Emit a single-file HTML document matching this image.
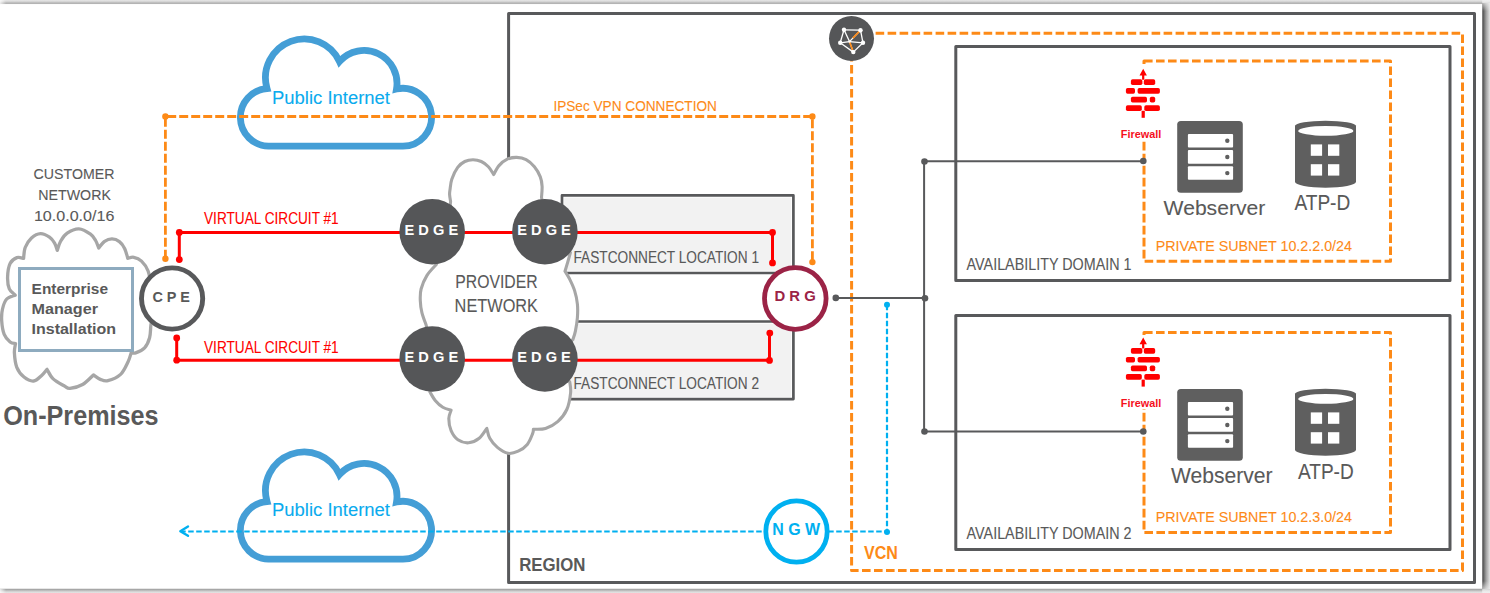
<!DOCTYPE html>
<html><head><meta charset="utf-8"><style>
html,body{margin:0;padding:0;width:1490px;height:593px;overflow:hidden;background:#fff}
svg{display:block;font-family:"Liberation Sans",sans-serif}
</style></head><body>
<svg width="1490" height="593" viewBox="0 0 1490 593">
<defs>
<linearGradient id="gt" x1="0" y1="0" x2="0" y2="1"><stop offset="0" stop-color="#e8e8e8"/><stop offset="0.45" stop-color="#d0d0d0"/><stop offset="0.78" stop-color="#a8a8a8"/><stop offset="1" stop-color="#f4f4f4"/></linearGradient>
<linearGradient id="gb" x1="0" y1="0" x2="0" y2="1"><stop offset="0" stop-color="#b0b0b0"/><stop offset="0.2" stop-color="#a6a6a6"/><stop offset="0.6" stop-color="#cfcfcf"/><stop offset="1" stop-color="#e6e6e6"/></linearGradient>
<linearGradient id="gr" x1="0" y1="0" x2="1" y2="0"><stop offset="0" stop-color="#6a6a6a"/><stop offset="0.08" stop-color="#505050"/><stop offset="0.5" stop-color="#a0a0a0"/><stop offset="1" stop-color="#e4e4e4"/></linearGradient>
<linearGradient id="gtr" x1="0" y1="0" x2="0" y2="1"><stop offset="0" stop-color="#eeeeee" stop-opacity="1"/><stop offset="0.35" stop-color="#eeeeee" stop-opacity="0.6"/><stop offset="1" stop-color="#eeeeee" stop-opacity="0"/></linearGradient>
<linearGradient id="gbr" x1="0" y1="0" x2="0" y2="1"><stop offset="0" stop-color="#eeeeee" stop-opacity="0"/><stop offset="0.6" stop-color="#eeeeee" stop-opacity="0.6"/><stop offset="1" stop-color="#eeeeee" stop-opacity="1"/></linearGradient>
<linearGradient id="gl" x1="0" y1="0" x2="1" y2="0"><stop offset="0" stop-color="#fff" stop-opacity="0.75"/><stop offset="1" stop-color="#fff" stop-opacity="0"/></linearGradient>
</defs>
<rect x="0" y="0" width="1490" height="593" fill="#ffffff"/>
<rect x="0" y="0" width="1490" height="4.3" fill="url(#gt)"/>
<rect x="0" y="588.7" width="1490" height="4.3" fill="url(#gb)"/>
<rect x="1482.2" y="3" width="7.8" height="586" fill="url(#gr)"/>
<rect x="0" y="0" width="6" height="4.3" fill="url(#gl)"/>
<rect x="1482.2" y="0" width="7.8" height="11" fill="url(#gtr)"/>
<rect x="1482.2" y="581" width="7.8" height="12" fill="url(#gbr)"/>
<rect x="0" y="588.7" width="6" height="4.3" fill="url(#gl)"/>
<rect x="508.6" y="13.6" width="965.9" height="568.8" fill="none" stroke="#58595b" stroke-width="3" stroke-linejoin="round"/>
<rect x="562" y="195.4" width="231.4" height="77.6" fill="#fff" stroke="#58595b" stroke-width="2.7" stroke-linejoin="round"/>
<rect x="564.2" y="197.6" width="227.0" height="73.19999999999999" fill="#f2f2f2"/>
<rect x="562" y="321.5" width="231.4" height="77.6" fill="#fff" stroke="#58595b" stroke-width="2.7" stroke-linejoin="round"/>
<rect x="564.2" y="323.7" width="227.0" height="73.19999999999999" fill="#f2f2f2"/>
<path d="M851.6 33.3 H1462.5 V570.5 H851.6 Z" fill="none" stroke="#fd8a17" stroke-width="3" stroke-dasharray="8.6 3.4" stroke-linejoin="round"/>
<rect x="955.8" y="46.5" width="494.20000000000005" height="234" fill="none" stroke="#58595b" stroke-width="3" stroke-linejoin="round"/>
<rect x="955.8" y="315.5" width="494.20000000000005" height="234" fill="none" stroke="#58595b" stroke-width="3" stroke-linejoin="round"/>
<rect x="1144" y="61" width="246.5" height="200.2" fill="none" stroke="#fd8a17" stroke-width="3" stroke-dasharray="8.6 3.4" stroke-linejoin="round"/>
<rect x="1144" y="332.4" width="246.5" height="200" fill="none" stroke="#fd8a17" stroke-width="3" stroke-dasharray="8.6 3.4" stroke-linejoin="round"/>
<path d="M267.00 88.50 A38.79 38.79 0 0 1 339.50 61.50 A32.90 32.90 0 0 1 396.50 89.00 A28.93 28.93 0 1 1 403.00 146.20 L268.50 146.20 A28.90 28.90 0 0 1 267.00 88.50 Z" fill="#fff" stroke="#449ed6" stroke-width="6.8"/>
<g transform="translate(0,413)"><path d="M267.00 88.50 A38.79 38.79 0 0 1 339.50 61.50 A32.90 32.90 0 0 1 396.50 89.00 A28.93 28.93 0 1 1 403.00 146.20 L268.50 146.20 A28.90 28.90 0 0 1 267.00 88.50 Z" fill="#fff" stroke="#449ed6" stroke-width="6.8"/></g>
<path d="M23.60 258.40 C23.87 256.58 23.88 250.90 25.20 247.50 C26.52 244.10 28.95 240.32 31.50 238.00 C34.05 235.68 37.50 233.73 40.50 233.60 C43.50 233.47 47.15 235.60 49.50 237.20 C51.85 238.80 53.30 241.00 54.60 243.20 C55.90 245.40 56.85 249.20 57.30 250.40 C57.85 248.87 58.95 244.07 60.60 241.20 C62.25 238.33 64.15 235.25 67.20 233.20 C70.25 231.15 75.02 228.73 78.90 228.90 C82.78 229.07 87.72 232.27 90.50 234.20 C93.28 236.13 94.22 238.20 95.60 240.50 C96.98 242.80 98.27 246.75 98.80 248.00 C99.77 246.90 102.40 242.92 104.60 241.40 C106.80 239.88 109.53 238.87 112.00 238.90 C114.47 238.93 117.30 240.02 119.40 241.60 C121.50 243.18 123.20 245.60 124.60 248.40 C126.00 251.20 127.27 256.73 127.80 258.40 C128.80 258.22 131.52 256.85 133.80 257.30 C136.08 257.75 139.12 258.82 141.50 261.10 C143.88 263.38 146.35 266.18 148.10 271.00 C149.85 275.82 151.35 286.83 152.00 290.00 C152.08 294.17 152.68 309.17 152.50 315.00 C152.32 320.83 151.38 321.22 150.90 325.00 C150.42 328.78 150.65 333.90 149.60 337.70 C148.55 341.50 146.92 345.27 144.60 347.80 C142.28 350.33 137.92 352.12 135.70 352.90 C133.48 353.68 132.03 352.57 131.30 352.50 C130.77 354.03 129.88 358.05 128.10 361.70 C126.32 365.35 123.97 371.23 120.60 374.40 C117.23 377.57 111.28 379.87 107.90 380.70 C104.52 381.53 102.72 380.35 100.30 379.40 C97.88 378.45 94.55 375.73 93.40 375.00 C91.60 376.58 86.50 382.28 82.60 384.50 C78.70 386.72 73.08 388.08 70.00 388.30 C66.92 388.52 66.95 387.42 64.10 385.80 C61.25 384.18 55.75 381.35 52.90 378.60 C50.05 375.85 47.98 370.85 47.00 369.30 C46.12 370.32 43.92 373.45 41.70 375.40 C39.48 377.35 36.65 380.73 33.70 381.00 C30.75 381.27 26.82 379.28 24.00 377.00 C21.18 374.72 18.40 371.32 16.80 367.30 C15.20 363.28 14.62 356.87 14.40 352.90 C14.18 348.93 15.32 345.07 15.50 343.50 C14.60 343.25 11.98 343.52 10.10 342.00 C8.22 340.48 5.60 337.92 4.20 334.40 C2.80 330.88 1.98 325.13 1.70 320.90 C1.42 316.67 1.66 312.65 2.50 309.00 C3.34 305.35 4.63 301.30 6.75 299.00 C8.87 296.70 13.79 295.83 15.20 295.20 C14.22 294.13 10.57 291.83 9.30 288.80 C8.03 285.77 7.47 281.22 7.60 277.00 C7.73 272.78 8.55 266.73 10.10 263.50 C11.65 260.27 14.65 258.45 16.90 257.60 C19.15 256.75 22.48 258.27 23.60 258.40 Z" fill="#fff" stroke="#a6a6a6" stroke-width="3.3" stroke-linejoin="round"/>
<path d="M447.00 232.00 L450.60 201.60 C450.43 200.43 449.70 196.57 449.60 194.60 C449.50 192.63 449.63 192.37 450.00 189.80 C450.37 187.23 450.52 182.93 451.80 179.20 C453.08 175.47 455.53 170.35 457.70 167.40 C459.87 164.45 462.25 162.78 464.80 161.50 C467.35 160.22 470.25 159.70 473.00 159.70 C475.75 159.70 478.73 160.32 481.30 161.50 C483.87 162.68 486.33 164.63 488.40 166.80 C490.47 168.97 492.82 173.22 493.70 174.50 C494.58 173.02 496.73 168.15 499.00 165.60 C501.27 163.05 504.35 160.57 507.30 159.20 C510.25 157.83 513.57 157.32 516.70 157.40 C519.83 157.48 523.15 158.13 526.10 159.70 C529.05 161.27 532.03 163.93 534.40 166.80 C536.77 169.67 539.02 173.65 540.30 176.90 C541.58 180.15 541.90 182.87 542.10 186.30 C542.30 189.73 541.60 195.63 541.50 197.50 L550.00 232.00 L570.40 252.60 C569.97 254.15 568.70 258.80 567.80 261.90 C566.90 265.00 565.47 269.65 565.00 271.20 C565.75 272.47 567.90 275.57 569.50 278.80 C571.10 282.03 573.28 286.38 574.60 290.60 C575.92 294.82 576.93 299.60 577.40 304.10 C577.87 308.60 577.73 313.10 577.40 317.60 C577.07 322.10 576.15 327.45 575.40 331.10 C574.65 334.75 573.32 338.10 572.90 339.50 L550.00 359.00 L569.80 382.10 C569.93 383.88 571.10 388.23 570.60 392.80 C570.10 397.37 568.95 404.70 566.80 409.50 C564.65 414.30 561.25 418.45 557.70 421.60 C554.15 424.75 549.55 427.13 545.50 428.40 C541.45 429.67 535.42 429.07 533.40 429.20 C533.27 429.95 533.62 431.17 532.60 433.70 C531.58 436.23 529.70 441.48 527.30 444.40 C524.90 447.32 521.42 449.72 518.20 451.20 C514.98 452.68 511.47 453.93 508.00 453.30 C504.53 452.67 500.43 449.90 497.40 447.40 C494.37 444.90 491.57 441.47 489.80 438.30 C488.03 435.13 487.30 430.05 486.80 428.40 C485.53 430.05 482.23 435.90 479.20 438.30 C476.17 440.70 472.15 442.55 468.60 442.80 C465.05 443.05 460.82 441.82 457.90 439.80 C454.98 437.78 452.62 434.23 451.10 430.70 C449.58 427.17 448.80 422.02 448.80 418.60 C448.80 415.18 450.72 411.60 451.10 410.20 C449.72 409.70 445.45 408.83 442.80 407.20 C440.15 405.57 437.35 402.93 435.20 400.40 C433.05 397.87 430.78 393.40 429.90 392.00 L432.00 359.00 L426.20 325.20 C425.48 323.10 422.88 316.67 421.90 312.60 C420.92 308.53 420.43 304.73 420.30 300.80 C420.17 296.87 419.98 293.23 421.10 289.00 C422.22 284.77 424.47 279.48 427.00 275.40 C429.53 271.32 434.75 266.32 436.30 264.50 L447.00 232.00 Z" fill="#fff" stroke="#a6a6a6" stroke-width="3.1" stroke-linejoin="round"/>
<rect x="19.5" y="268.5" width="113" height="82" fill="#fff" stroke="#8eabbf" stroke-width="3"/>
<path d="M165.4 258.7 V116.5 H812.4 V262.1" fill="none" stroke="#fd8a17" stroke-width="2.8" stroke-dasharray="9 3"/>
<circle cx="165.4" cy="116.5" r="3.2" fill="#fd8a17"/>
<circle cx="165.4" cy="258.7" r="3.2" fill="#fd8a17"/>
<circle cx="812.4" cy="116.5" r="3.2" fill="#fd8a17"/>
<circle cx="812.4" cy="262.1" r="3.2" fill="#fd8a17"/>
<path d="M179.3 259.6 V232.4 H772.5 V262.9" fill="none" stroke="#ff0000" stroke-width="3"/>
<path d="M176.7 337.9 V360.2 H769.5 V333.1" fill="none" stroke="#ff0000" stroke-width="3"/>
<circle cx="179.3" cy="232.4" r="3.4" fill="#ff0000"/>
<circle cx="179.3" cy="259.6" r="3.4" fill="#ff0000"/>
<circle cx="772.5" cy="232.4" r="3.4" fill="#ff0000"/>
<circle cx="772.5" cy="262.9" r="3.4" fill="#ff0000"/>
<circle cx="176.7" cy="337.9" r="3.4" fill="#ff0000"/>
<circle cx="176.7" cy="360.2" r="3.4" fill="#ff0000"/>
<circle cx="769.5" cy="360.4" r="3.4" fill="#ff0000"/>
<circle cx="769.8" cy="333.1" r="3.4" fill="#ff0000"/>
<path d="M835.8 297.9 H924.5" fill="none" stroke="#58595b" stroke-width="2"/>
<path d="M1143.3 161.2 H924.1 V431.5 H1143.3" fill="none" stroke="#58595b" stroke-width="2"/>
<circle cx="835.8" cy="297.9" r="3.3" fill="#58595b"/>
<circle cx="924.5" cy="161.5" r="3.3" fill="#58595b"/>
<circle cx="925" cy="298.2" r="3.3" fill="#58595b"/>
<circle cx="924.5" cy="431.5" r="3.3" fill="#58595b"/>
<circle cx="1143.3" cy="161" r="3.3" fill="#58595b"/>
<circle cx="1143.3" cy="431.5" r="3.3" fill="#58595b"/>
<path d="M887 304.8 V531.5 H182" fill="none" stroke="#00b0f0" stroke-width="2.2" stroke-dasharray="5.5 2.5"/>
<path d="M188 526.4 L180.3 531.2 L188 535.8" fill="none" stroke="#00b0f0" stroke-width="2.4" stroke-linecap="round" stroke-linejoin="round"/>
<circle cx="887" cy="304.8" r="3" fill="#00b0f0"/>
<circle cx="887" cy="532" r="3" fill="#00b0f0"/>
<circle cx="432.2" cy="231.8" r="32.8" fill="#555658"/>
<circle cx="544.9" cy="231.8" r="32.8" fill="#555658"/>
<circle cx="432.2" cy="359" r="32.8" fill="#555658"/>
<circle cx="544.9" cy="359" r="32.8" fill="#555658"/>
<circle cx="172.1" cy="298.5" r="30.6" fill="#fff" stroke="#58595b" stroke-width="4.9"/>
<circle cx="795.3" cy="298.5" r="30.8" fill="#fff" stroke="#9b2346" stroke-width="4.8"/>
<circle cx="796.5" cy="531.5" r="30.7" fill="#fff" stroke="#00b0f0" stroke-width="4.8"/>
<circle cx="851.5" cy="38.5" r="22.5" fill="#555658"/>
<line x1="844.0" y1="29.8" x2="860.5" y2="30.2" stroke="#fff" stroke-width="1.3"/>
<line x1="860.5" y1="30.2" x2="863" y2="42.8" stroke="#fff" stroke-width="1.3"/>
<line x1="863" y1="42.8" x2="853.3" y2="52.1" stroke="#fff" stroke-width="1.3"/>
<line x1="853.3" y1="52.1" x2="840.2" y2="42.8" stroke="#fff" stroke-width="1.3"/>
<line x1="840.2" y1="42.8" x2="844.0" y2="29.8" stroke="#fff" stroke-width="1.3"/>
<line x1="844.0" y1="29.8" x2="849.5" y2="41.6" stroke="#fff" stroke-width="1.3"/>
<line x1="840.2" y1="42.8" x2="849.5" y2="41.6" stroke="#fff" stroke-width="1.3"/>
<line x1="849.5" y1="41.6" x2="863" y2="42.8" stroke="#fff" stroke-width="1.3"/>
<line x1="849.5" y1="41.6" x2="860.5" y2="30.2" stroke="#fff" stroke-width="1.3"/>
<line x1="849.5" y1="41.6" x2="853.3" y2="52.1" stroke="#fff" stroke-width="1.3"/>
<line x1="852.80" y1="38.18" x2="859.62" y2="31.11" stroke="#fd8a17" stroke-width="1.6"/>
<line x1="849.69" y1="42.12" x2="852.54" y2="50.00" stroke="#fd8a17" stroke-width="1.6"/>
<circle cx="844.0" cy="29.8" r="2.2" fill="#fff"/>
<circle cx="860.5" cy="30.2" r="2.2" fill="#fff"/>
<circle cx="840.2" cy="42.8" r="2.2" fill="#fff"/>
<circle cx="863" cy="42.8" r="2.2" fill="#fff"/>
<circle cx="853.3" cy="52.1" r="2.2" fill="#fff"/>
<circle cx="849.5" cy="41.6" r="1.2" fill="#fff"/>
<rect x="1120" y="64" width="43" height="77" fill="#fff"/>
<rect x="1120" y="335" width="43" height="74" fill="#fff"/>
<path d="M1143.2 68.8 L1146.9 75.39999999999999 L1144.3 75.39999999999999 L1144.3 79.8 L1142.1000000000001 79.8 L1142.1000000000001 75.39999999999999 L1139.5 75.39999999999999 Z" fill="#ff0000"/>
<rect x="1130.9" y="79.3" width="11.5" height="5.6" rx="1.7" fill="#ff0000"/>
<rect x="1143.8" y="79.3" width="11.400000000000091" height="5.6" rx="1.7" fill="#ff0000"/>
<rect x="1125.9" y="88.1" width="9.099999999999909" height="5.6" rx="1.7" fill="#ff0000"/>
<rect x="1137.6" y="88.1" width="22.300000000000182" height="5.6" rx="1.7" fill="#ff0000"/>
<rect x="1130.9" y="96.8" width="16.09999999999991" height="5.6" rx="1.7" fill="#ff0000"/>
<rect x="1149.8" y="96.8" width="5.400000000000091" height="5.6" rx="1.7" fill="#ff0000"/>
<rect x="1125.9" y="105.3" width="15.899999999999864" height="5.6" rx="1.7" fill="#ff0000"/>
<rect x="1144.3" y="105.3" width="15.600000000000136" height="5.6" rx="1.7" fill="#ff0000"/>
<rect x="1141.6000000000001" y="110.8" width="3.2" height="7" fill="#ff0000"/>
<path d="M1143.2 337.6 L1146.9 344.20000000000005 L1144.3 344.20000000000005 L1144.3 348.6 L1142.1000000000001 348.6 L1142.1000000000001 344.20000000000005 L1139.5 344.20000000000005 Z" fill="#ff0000"/>
<rect x="1130.9" y="348.1" width="11.5" height="5.6" rx="1.7" fill="#ff0000"/>
<rect x="1143.8" y="348.1" width="11.400000000000091" height="5.6" rx="1.7" fill="#ff0000"/>
<rect x="1125.9" y="356.90000000000003" width="9.099999999999909" height="5.6" rx="1.7" fill="#ff0000"/>
<rect x="1137.6" y="356.90000000000003" width="22.300000000000182" height="5.6" rx="1.7" fill="#ff0000"/>
<rect x="1130.9" y="365.6" width="16.09999999999991" height="5.6" rx="1.7" fill="#ff0000"/>
<rect x="1149.8" y="365.6" width="5.400000000000091" height="5.6" rx="1.7" fill="#ff0000"/>
<rect x="1125.9" y="374.1" width="15.899999999999864" height="5.6" rx="1.7" fill="#ff0000"/>
<rect x="1144.3" y="374.1" width="15.600000000000136" height="5.6" rx="1.7" fill="#ff0000"/>
<rect x="1141.6000000000001" y="379.6" width="3.2" height="7" fill="#ff0000"/>
<rect x="1177.2" y="121" width="65.6" height="71.8" rx="3.6" fill="#5f5f5f"/>
<rect x="1187.9" y="133.9" width="45.2" height="13.6" rx="1" fill="#fff"/>
<circle cx="1227.3" cy="140.8" r="2.2" fill="#5f5f5f"/>
<rect x="1187.9" y="150.1" width="45.2" height="13.6" rx="1" fill="#fff"/>
<circle cx="1227.3" cy="157.0" r="2.2" fill="#5f5f5f"/>
<rect x="1187.9" y="166.2" width="45.2" height="13.6" rx="1" fill="#fff"/>
<circle cx="1227.3" cy="173.1" r="2.2" fill="#5f5f5f"/>
<rect x="1177.2" y="389" width="65.6" height="71.8" rx="3.6" fill="#5f5f5f"/>
<rect x="1187.9" y="401.9" width="45.2" height="13.6" rx="1" fill="#fff"/>
<circle cx="1227.3" cy="408.79999999999995" r="2.2" fill="#5f5f5f"/>
<rect x="1187.9" y="418.1" width="45.2" height="13.6" rx="1" fill="#fff"/>
<circle cx="1227.3" cy="425.0" r="2.2" fill="#5f5f5f"/>
<rect x="1187.9" y="434.2" width="45.2" height="13.6" rx="1" fill="#fff"/>
<circle cx="1227.3" cy="441.09999999999997" r="2.2" fill="#5f5f5f"/>
<path d="M1295 125.8 A30.5 5 0 0 1 1356 125.8 L1356 181.8 A30.5 6 0 0 1 1295 181.8 Z" fill="#5f5f5f"/>
<ellipse cx="1325.8" cy="130.9" rx="27.6" ry="4.9" fill="#fff"/>
<rect x="1310.8" y="144.4" width="11.3" height="11.4" fill="#fff"/>
<rect x="1310.8" y="164.2" width="11.3" height="11.4" fill="#fff"/>
<rect x="1328" y="144.4" width="11.3" height="11.4" fill="#fff"/>
<rect x="1328" y="164.2" width="11.3" height="11.4" fill="#fff"/>
<path d="M1295 393.8 A30.5 5 0 0 1 1356 393.8 L1356 449.8 A30.5 6 0 0 1 1295 449.8 Z" fill="#5f5f5f"/>
<ellipse cx="1325.8" cy="398.90000000000003" rx="27.6" ry="4.9" fill="#fff"/>
<rect x="1310.8" y="412.40000000000003" width="11.3" height="11.4" fill="#fff"/>
<rect x="1310.8" y="432.2" width="11.3" height="11.4" fill="#fff"/>
<rect x="1328" y="412.40000000000003" width="11.3" height="11.4" fill="#fff"/>
<rect x="1328" y="432.2" width="11.3" height="11.4" fill="#fff"/>
<text x="272" y="103.8" font-size="18.8" fill="#0aabee" font-weight="normal" text-anchor="start" textLength="118" lengthAdjust="spacingAndGlyphs" stroke="#0aabee" stroke-width="0.1">Public Internet</text>
<text x="272" y="516.1" font-size="18.8" fill="#0aabee" font-weight="normal" text-anchor="start" textLength="118" lengthAdjust="spacingAndGlyphs" stroke="#0aabee" stroke-width="0.1">Public Internet</text>
<text x="553.4" y="110.8" font-size="15.5" fill="#fd8a17" font-weight="normal" text-anchor="start" textLength="163.5" lengthAdjust="spacingAndGlyphs" stroke="#fd8a17" stroke-width="0.1">IPSec VPN CONNECTION</text>
<text x="33.6" y="178.9" font-size="15.1" fill="#595959" font-weight="normal" text-anchor="start" textLength="80.8" lengthAdjust="spacingAndGlyphs" stroke="#595959" stroke-width="0.1">CUSTOMER</text>
<text x="38.3" y="199.5" font-size="15.1" fill="#595959" font-weight="normal" text-anchor="start" textLength="72.6" lengthAdjust="spacingAndGlyphs" stroke="#595959" stroke-width="0.1">NETWORK</text>
<text x="33.9" y="220.8" font-size="15.1" fill="#595959" font-weight="normal" text-anchor="start" textLength="80.5" lengthAdjust="spacingAndGlyphs" stroke="#595959" stroke-width="0.1">10.0.0.0/16</text>
<text x="204" y="224" font-size="15.8" fill="#ff0000" font-weight="normal" text-anchor="start" textLength="134.7" lengthAdjust="spacingAndGlyphs" stroke="#ff0000" stroke-width="0.1">VIRTUAL CIRCUIT #1</text>
<text x="204" y="353.1" font-size="15.8" fill="#ff0000" font-weight="normal" text-anchor="start" textLength="134.7" lengthAdjust="spacingAndGlyphs" stroke="#ff0000" stroke-width="0.1">VIRTUAL CIRCUIT #1</text>
<text x="404.5" y="234.8" font-size="15.5" fill="#fff" font-weight="bold" text-anchor="start" textLength="53.7" lengthAdjust="spacingAndGlyphs">E D G E</text>
<text x="517.2" y="234.8" font-size="15.5" fill="#fff" font-weight="bold" text-anchor="start" textLength="53.7" lengthAdjust="spacingAndGlyphs">E D G E</text>
<text x="404.5" y="362" font-size="15.5" fill="#fff" font-weight="bold" text-anchor="start" textLength="53.7" lengthAdjust="spacingAndGlyphs">E D G E</text>
<text x="517.2" y="362" font-size="15.5" fill="#fff" font-weight="bold" text-anchor="start" textLength="53.7" lengthAdjust="spacingAndGlyphs">E D G E</text>
<text x="455.3" y="287.9" font-size="18.9" fill="#595959" font-weight="normal" text-anchor="start" textLength="82.3" lengthAdjust="spacingAndGlyphs" stroke="#595959" stroke-width="0.1">PROVIDER</text>
<text x="454.6" y="311.9" font-size="18.9" fill="#595959" font-weight="normal" text-anchor="start" textLength="83.4" lengthAdjust="spacingAndGlyphs" stroke="#595959" stroke-width="0.1">NETWORK</text>
<text x="573.5" y="262.9" font-size="15.7" fill="#595959" font-weight="normal" text-anchor="start" textLength="185.5" lengthAdjust="spacingAndGlyphs" stroke="#595959" stroke-width="0.1">FASTCONNECT LOCATION 1</text>
<text x="573.5" y="388.9" font-size="15.7" fill="#595959" font-weight="normal" text-anchor="start" textLength="185.5" lengthAdjust="spacingAndGlyphs" stroke="#595959" stroke-width="0.1">FASTCONNECT LOCATION 2</text>
<text x="774.5" y="301.4" font-size="14.5" fill="#9b2346" font-weight="bold" text-anchor="start" textLength="41.3" lengthAdjust="spacingAndGlyphs">D R G</text>
<text x="31.6" y="293.6" font-size="14.7" fill="#595959" font-weight="bold" text-anchor="start" textLength="76.4" lengthAdjust="spacingAndGlyphs">Enterprise</text>
<text x="31.5" y="313.8" font-size="14.7" fill="#595959" font-weight="bold" text-anchor="start" textLength="66.5" lengthAdjust="spacingAndGlyphs">Manager</text>
<text x="31.5" y="333.5" font-size="14.7" fill="#595959" font-weight="bold" text-anchor="start" textLength="84.5" lengthAdjust="spacingAndGlyphs">Installation</text>
<text x="152.4" y="302.1" font-size="15.5" fill="#595959" font-weight="bold" text-anchor="start" textLength="37.4" lengthAdjust="spacingAndGlyphs">C P E</text>
<text x="3.2" y="424.8" font-size="27.3" fill="#595959" font-weight="bold" text-anchor="start" textLength="155.4" lengthAdjust="spacingAndGlyphs">On-Premises</text>
<text x="772.3" y="534.5" font-size="15.7" fill="#00b0f0" font-weight="bold" text-anchor="start" textLength="47.9" lengthAdjust="spacingAndGlyphs">N G W</text>
<text x="864" y="558.8" font-size="18.6" fill="#fd8a17" font-weight="bold" text-anchor="start" textLength="33.8" lengthAdjust="spacingAndGlyphs">VCN</text>
<text x="519.2" y="570.8" font-size="18.75" fill="#595959" font-weight="bold" text-anchor="start" textLength="66.3" lengthAdjust="spacingAndGlyphs">REGION</text>
<text x="966.6" y="270.2" font-size="16" fill="#595959" font-weight="normal" text-anchor="start" textLength="164.9" lengthAdjust="spacingAndGlyphs" stroke="#595959" stroke-width="0.1">AVAILABILITY DOMAIN 1</text>
<text x="966.6" y="539" font-size="16" fill="#595959" font-weight="normal" text-anchor="start" textLength="164.9" lengthAdjust="spacingAndGlyphs" stroke="#595959" stroke-width="0.1">AVAILABILITY DOMAIN 2</text>
<text x="1155.7" y="250.7" font-size="15.3" fill="#fd8a17" font-weight="normal" text-anchor="start" textLength="196.3" lengthAdjust="spacingAndGlyphs" stroke="#fd8a17" stroke-width="0.1">PRIVATE SUBNET 10.2.2.0/24</text>
<text x="1155.7" y="521.8" font-size="15.3" fill="#fd8a17" font-weight="normal" text-anchor="start" textLength="196.3" lengthAdjust="spacingAndGlyphs" stroke="#fd8a17" stroke-width="0.1">PRIVATE SUBNET 10.2.3.0/24</text>
<text x="1163.6" y="214.8" font-size="21" fill="#595959" font-weight="normal" text-anchor="start" textLength="101.7" lengthAdjust="spacingAndGlyphs" stroke="#595959" stroke-width="0.1">Webserver</text>
<text x="1294.4" y="210" font-size="21.2" fill="#595959" font-weight="normal" text-anchor="start" textLength="55.9" lengthAdjust="spacingAndGlyphs" stroke="#595959" stroke-width="0.1">ATP-D</text>
<text x="1171" y="483" font-size="21.3" fill="#595959" font-weight="normal" text-anchor="start" textLength="101.6" lengthAdjust="spacingAndGlyphs" stroke="#595959" stroke-width="0.1">Webserver</text>
<text x="1298" y="479" font-size="21.5" fill="#595959" font-weight="normal" text-anchor="start" textLength="55.7" lengthAdjust="spacingAndGlyphs" stroke="#595959" stroke-width="0.1">ATP-D</text>
<text x="1120.8" y="138.2" font-size="10.6" fill="#f5101c" font-weight="bold" text-anchor="start" textLength="40.4" lengthAdjust="spacingAndGlyphs">Firewall</text>
<text x="1120.8" y="407.4" font-size="10.6" fill="#f5101c" font-weight="bold" text-anchor="start" textLength="40.4" lengthAdjust="spacingAndGlyphs">Firewall</text>
</svg>
</body></html>
